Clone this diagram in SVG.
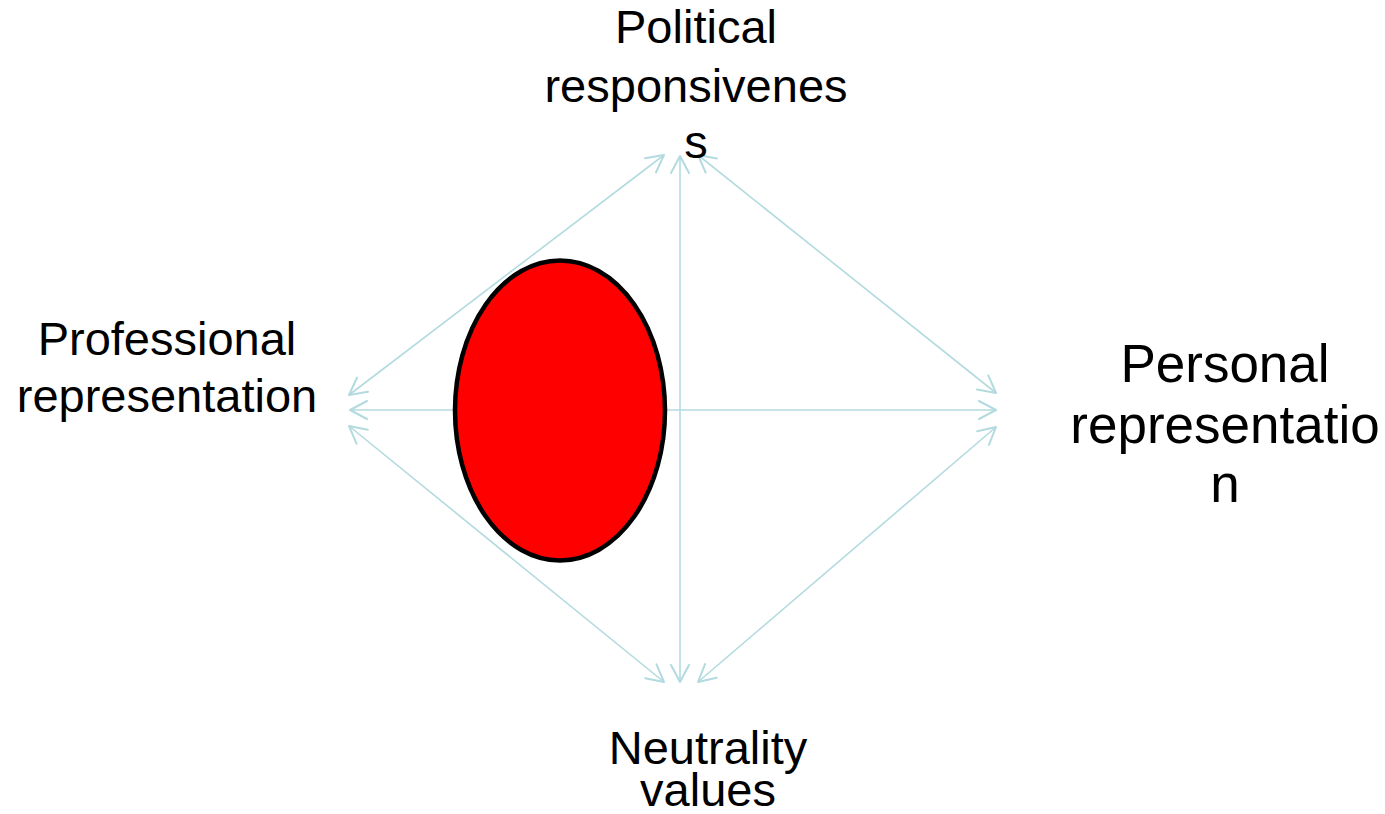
<svg xmlns="http://www.w3.org/2000/svg" width="1385" height="814" viewBox="0 0 1385 814">
  <defs>
    <marker id="vee" markerUnits="userSpaceOnUse" markerWidth="24" markerHeight="24" viewBox="-20 -12 24 24" refX="0" refY="0" orient="auto-start-reverse" overflow="visible">
      <path d="M-17,-9 L0,0 L-17,9" fill="none" stroke="#b3dbdf" stroke-width="2" stroke-linecap="round" stroke-linejoin="round"/>
    </marker>
  </defs>
  <style>
    .link { stroke: #b3dbdf; stroke-width: 1.6; fill: none; marker-start: url(#vee); marker-end: url(#vee); }
    .label { font-family: "Liberation Sans", Arial, sans-serif; fill: #000; text-anchor: middle; }
  </style>
  <rect width="1385" height="814" fill="#ffffff"/>

  <!-- two-headed connectors between the four poles -->
  <g id="connectors">
    <line class="link" x1="680" y1="156" x2="680" y2="682"/>
    <line class="link" x1="350" y1="410" x2="996" y2="410"/>
    <line class="link" x1="349" y1="395" x2="664" y2="155"/>
    <line class="link" x1="698" y1="155" x2="996" y2="393"/>
    <line class="link" x1="349" y1="426" x2="664" y2="682"/>
    <line class="link" x1="698" y1="682" x2="996" y2="427"/>
  </g>

  <g id="marker-ellipse">
    <ellipse cx="560" cy="410.5" rx="105" ry="150" fill="#ff0000" stroke="#000" stroke-width="4.5"/>
  </g>

  <g id="political">
    <text class="label" font-size="47" x="696" y="43">Political</text>
    <text class="label" font-size="47" x="696" y="102">responsivenes</text>
    <text class="label" font-size="47" x="696" y="158">s</text>
  </g>

  <g id="professional">
    <text class="label" font-size="47" x="167" y="355">Professional</text>
    <text class="label" font-size="47" x="167" y="412">representation</text>
  </g>

  <g id="personal">
    <text class="label" font-size="53" x="1225" y="382">Personal</text>
    <text class="label" font-size="53" x="1225" y="443">representatio</text>
    <text class="label" font-size="53" x="1225" y="502">n</text>
  </g>

  <g id="neutrality">
    <text class="label" font-size="47" x="708" y="764">Neutrality</text>
    <text class="label" font-size="47" x="708" y="806">values</text>
  </g>
</svg>
